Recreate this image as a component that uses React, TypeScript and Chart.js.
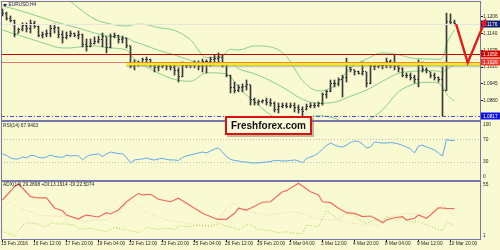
import React, { useEffect, useRef } from "react";
import { Chart, registerables } from "chart.js";

Chart.register(...registerables);

// ---------------- data ----------------
const openP = [
  1.1229, 1.1214, 1.1198, 1.119, 1.114, 1.1152, 1.1171, 1.1159, 1.1175, 1.1167,
  1.1132, 1.1136, 1.114, 1.1159, 1.1163, 1.1136, 1.1121, 1.1132, 1.114, 1.1132,
  1.1136, 1.1097, 1.1086, 1.1101, 1.1109, 1.1113, 1.1125, 1.1082, 1.1128, 1.1132,
  1.1113, 1.1117, 1.109, 1.1012, 1.102, 1.1024, 1.1036, 1.1039, 1.102, 1.1005,
  1.1012, 1.1016, 1.1012, 1.1008, 1.0993, 1.097, 1.1016, 1.1016, 1.102, 1.1024,
  1.1012, 1.1028, 1.1028, 1.1036, 1.1043, 1.1047, 1.102, 1.0977, 1.0927, 1.0919,
  1.0927, 1.0931, 1.0939, 1.0881, 1.0869, 1.0873, 1.0877, 1.0869, 1.0865, 1.0842,
  1.0854, 1.0861, 1.0857, 1.0861, 1.085, 1.0842, 1.0842, 1.0857, 1.0861, 1.0861,
  1.0865, 1.09, 1.0912, 1.0943, 1.0946, 1.0958, 1.0966, 1.1008, 1.0997, 1.0989,
  1.0985, 1.0989, 1.0943, 1.1012, 1.1012, 1.1016, 1.1016, 1.1028, 1.1024, 1.1012,
  1.1001, 1.0977, 1.0974, 1.0966, 1.0958, 1.1016, 1.0997, 1.0989, 1.0974, 1.0966,
  1.0958, 1.0919, 1.1183, 1.1179,
];
const highP = [
  1.1233, 1.1221, 1.1206, 1.119, 1.1159, 1.1179, 1.1179, 1.119, 1.1186, 1.1167,
  1.1144, 1.1152, 1.1171, 1.1175, 1.1163, 1.1148, 1.1144, 1.1148, 1.114, 1.1148,
  1.1136, 1.1117, 1.1117, 1.1125, 1.1128, 1.114, 1.1125, 1.1136, 1.114, 1.1132,
  1.1128, 1.1121, 1.109, 1.1036, 1.1032, 1.1043, 1.1047, 1.1039, 1.1024, 1.1024,
  1.1024, 1.1024, 1.1024, 1.1016, 1.1005, 1.1028, 1.1024, 1.1024, 1.1032, 1.1032,
  1.1039, 1.1036, 1.1047, 1.1055, 1.1063, 1.1055, 1.1024, 1.0977, 1.095, 1.0939,
  1.0943, 1.0958, 1.0939, 1.0888, 1.0881, 1.0881, 1.0888, 1.0885, 1.0873, 1.0869,
  1.0869, 1.0869, 1.0869, 1.0869, 1.0861, 1.0854, 1.0865, 1.0869, 1.0869, 1.0873,
  1.0908, 1.0919, 1.0958, 1.0958, 1.0966, 1.0977, 1.1043, 1.1008, 1.0997, 1.0993,
  1.1028, 1.0989, 1.1024, 1.1024, 1.1024, 1.1024, 1.1043, 1.1036, 1.1055, 1.1024,
  1.1005, 1.0985, 1.0985, 1.0977, 1.1036, 1.1028, 1.1005, 1.0989, 1.0985, 1.097,
  1.1008, 1.1217, 1.1214, 1.119,
];
const lowP = [
  1.1206, 1.119, 1.1183, 1.1125, 1.114, 1.1148, 1.1144, 1.114, 1.1159, 1.1125,
  1.1121, 1.1125, 1.1125, 1.114, 1.1121, 1.1101, 1.1117, 1.1125, 1.1125, 1.1117,
  1.1086, 1.107, 1.1086, 1.1097, 1.1101, 1.1086, 1.1063, 1.1082, 1.1121, 1.1101,
  1.1101, 1.1082, 1.1005, 1.0997, 1.1012, 1.1016, 1.102, 1.1008, 1.0989, 1.0993,
  1.1005, 1.0997, 1.0997, 1.0977, 1.095, 1.097, 1.1005, 1.1005, 1.1005, 1.0997,
  1.0989, 1.0985, 1.1012, 1.1016, 1.1024, 1.1008, 1.097, 1.0908, 1.0908, 1.0912,
  1.0912, 1.0919, 1.0861, 1.0861, 1.0861, 1.0869, 1.0861, 1.0857, 1.0834, 1.083,
  1.085, 1.085, 1.085, 1.0834, 1.083, 1.0819, 1.0842, 1.085, 1.085, 1.0854,
  1.0861, 1.0888, 1.0912, 1.0931, 1.0935, 1.0892, 1.095, 1.0989, 1.0977, 1.0981,
  1.0977, 1.0931, 1.0943, 1.0997, 1.1005, 1.1001, 1.1005, 1.1005, 1.0997, 1.0989,
  1.097, 1.0966, 1.0958, 1.0946, 1.0931, 1.0989, 1.0985, 1.0966, 1.0958, 1.095,
  1.0819, 1.0916, 1.1175, 1.1171,
];
const closeP = [
  1.1214, 1.1198, 1.119, 1.1136, 1.1152, 1.1171, 1.1159, 1.1175, 1.1167, 1.1132,
  1.1136, 1.114, 1.1159, 1.1163, 1.1136, 1.1121, 1.1132, 1.114, 1.1132, 1.1136,
  1.1097, 1.1086, 1.1101, 1.1109, 1.1113, 1.1125, 1.1082, 1.1128, 1.1132, 1.1113,
  1.1117, 1.109, 1.1012, 1.102, 1.1024, 1.1036, 1.1039, 1.102, 1.1005, 1.1012,
  1.1016, 1.1012, 1.1008, 1.0993, 1.097, 1.1016, 1.1016, 1.102, 1.1024, 1.1012,
  1.1028, 1.1028, 1.1036, 1.1043, 1.1047, 1.102, 1.0977, 1.0927, 1.0919, 1.0927,
  1.0931, 1.0939, 1.0881, 1.0869, 1.0873, 1.0877, 1.0869, 1.0865, 1.0842, 1.0854,
  1.0861, 1.0857, 1.0861, 1.085, 1.0842, 1.0834, 1.0857, 1.0861, 1.0861, 1.0865,
  1.09, 1.0912, 1.0943, 1.0946, 1.0958, 1.0966, 1.1024, 1.0997, 1.0989, 1.0985,
  1.0989, 1.0943, 1.1012, 1.1012, 1.1016, 1.1016, 1.1028, 1.1024, 1.1012, 1.1001,
  1.0977, 1.0974, 1.0966, 1.0958, 1.1016, 1.0997, 1.0993, 1.0974, 1.0966, 1.0958,
  1.0919, 1.1183, 1.1179, 1.1176,
];

// Bollinger bands, read at these bars
const bbIdx = [0, 3, 7, 11, 15, 17, 19, 23, 27, 31, 33, 35, 39, 43, 47, 51, 55, 57, 59, 63, 67, 71, 75, 79, 83, 87, 91, 95, 99, 103, 107, 109, 110, 111, 112, 113];
const bbUpper = [1.1364, 1.1345, 1.1322, 1.1299, 1.1275, 1.1262, 1.1237, 1.1194, 1.1175, 1.1167, 1.1173, 1.1174, 1.1161, 1.115, 1.1114, 1.1045, 1.1053, 1.1077, 1.1074, 1.109, 1.1086, 1.1049, 1.0956, 1.0916, 1.0934, 1.1005, 1.1039, 1.1063, 1.1056, 1.1041, 1.1039, 1.1038, 1.1044, 1.1097, 1.1128, 1.1152];
const bbMiddle = [1.1245, 1.1233, 1.1214, 1.1194, 1.1175, 1.1167, 1.1159, 1.114, 1.1127, 1.1121, 1.1106, 1.1096, 1.1073, 1.1055, 1.1034, 1.1016, 1.1018, 1.1024, 1.1002, 1.0982, 1.0955, 1.0921, 1.0883, 1.0868, 1.0872, 1.0895, 1.0919, 1.0953, 1.0984, 1.0992, 1.0994, 1.0992, 1.0988, 1.1, 1.1008, 1.1017];
const bbLower = [1.1152, 1.1136, 1.1117, 1.1097, 1.1082, 1.1082, 1.1086, 1.109, 1.1082, 1.1074, 1.1039, 1.1019, 1.0985, 1.096, 1.0953, 1.0986, 1.0984, 1.097, 1.093, 1.0873, 1.0823, 1.0793, 1.0809, 1.082, 1.081, 1.0784, 1.0799, 1.0842, 1.0912, 1.0943, 1.0949, 1.0945, 1.0932, 1.0904, 1.0888, 1.0877];

const rsiVals = [
  44.0, 41.1, 36.7, 34.9, 34.9, 38.4, 36.7, 41.1, 41.1, 37.6,
  36.7, 38.4, 42.0, 39.3, 38.4, 37.6, 42.0, 40.2, 41.1, 40.2,
  33.1, 39.3, 42.0, 42.9, 43.8, 39.3, 43.8, 47.3, 45.5, 44.7,
  43.8, 37.6, 27.8, 33.1, 34.0, 34.9, 36.7, 34.0, 33.1, 34.9,
  35.8, 34.0, 33.1, 33.1, 32.2, 37.6, 40.2, 42.0, 43.8, 45.5,
  47.3, 45.5, 49.1, 52.7, 54.4, 47.3, 39.3, 34.0, 32.2, 31.3,
  29.5, 29.5, 27.8, 27.8, 27.8, 28.7, 29.5, 30.4, 32.2, 32.2,
  31.3, 31.3, 32.2, 33.1, 31.3, 27.8, 35.8, 38.4, 41.1, 45.5,
  52.7, 58.9, 63.3, 59.8, 57.1, 56.2, 59.8, 64.2, 66.9, 66.0,
  61.6, 54.4, 56.2, 65.1, 64.2, 63.3, 63.3, 64.2, 63.3, 61.6,
  58.9, 56.2, 52.7, 45.5, 58.0, 59.8, 56.2, 53.6, 50.9, 45.5,
  40.2, 69.6, 67.8, 67.9403,
];

const adxIdx = [0, 3, 4, 5, 7, 9, 11, 13, 15, 16, 19, 20, 21, 24, 26, 27, 29, 31, 34, 35, 37, 39, 42, 44, 46, 48, 50, 53, 54, 56, 58, 59, 61, 62, 65, 67, 70, 71, 74, 77, 79, 80, 82, 84, 86, 88, 90, 92, 94, 95, 96, 98, 100, 101, 103, 104, 106, 107, 109, 111, 113];
const adxVals = [37.3, 49.7, 52.2, 48.5, 40.4, 39.2, 39.2, 29.9, 27.3, 23.3, 19.6, 21.8, 23.3, 21.5, 25.5, 24.3, 28.0, 35.7, 43.5, 42.0, 42.6, 38.0, 35.7, 38.9, 34.2, 29.6, 24.9, 20.3, 19.3, 19.3, 24.9, 29.6, 28.0, 29.6, 35.2, 35.7, 45.0, 46.0, 52.9, 45.0, 42.0, 35.7, 34.8, 29.6, 25.5, 24.9, 21.8, 22.4, 18.7, 16.2, 18.7, 20.8, 21.8, 18.7, 20.3, 23.3, 20.3, 23.3, 30.1, 29.6, 29.2898];
const pdiIdx = [0, 2, 3, 5, 6, 7, 9, 10, 11, 12, 14, 16, 18, 19, 22, 24, 26, 28, 29, 31, 34, 35, 36, 39, 41, 43, 44, 47, 49, 52, 54, 56, 58, 59, 61, 62, 64, 67, 69, 71, 73, 75, 76, 79, 81, 82, 84, 86, 88, 89, 91, 93, 95, 96, 98, 100, 102, 104, 106, 109, 110, 111, 112, 113];
const pdiVals = [7.8, 5.7, 3.8, 14.0, 15.0, 16.2, 14.7, 12.4, 13.1, 16.2, 15.0, 15.0, 14.0, 10.0, 11.0, 9.4, 7.8, 11.9, 11.0, 9.4, 6.9, 9.4, 11.9, 10.0, 11.0, 10.0, 13.1, 12.4, 14.0, 12.4, 15.6, 13.1, 11.0, 9.4, 14.0, 14.0, 10.0, 8.7, 6.9, 7.8, 6.3, 5.7, 14.0, 12.4, 27.3, 24.9, 19.3, 24.9, 23.3, 19.3, 15.6, 18.7, 17.1, 21.8, 19.3, 20.3, 17.1, 17.1, 14.0, 10.0, 8.7, 17.1, 15.0, 13.1914];
const mdiIdx = [0, 2, 4, 7, 9, 12, 16, 19, 21, 24, 26, 29, 32, 34, 36, 39, 41, 44, 46, 49, 53, 56, 58, 60, 62, 64, 67, 70, 73, 75, 78, 80, 83, 85, 88, 90, 94, 96, 99, 101, 104, 106, 109, 110, 111, 113];
const mdiVals = [31.1, 35.7, 29.6, 26.4, 23.3, 22.4, 21.8, 19.3, 17.1, 19.3, 18.7, 24.9, 37.3, 31.1, 25.5, 21.8, 18.7, 17.1, 15.6, 14.0, 14.0, 29.6, 34.2, 28.0, 26.4, 24.9, 23.3, 24.9, 26.4, 24.9, 20.3, 18.7, 19.3, 17.1, 15.6, 14.0, 14.0, 20.3, 23.3, 24.9, 23.3, 24.9, 29.6, 32.7, 28.0, 22.5074];

const timeLabels = ["15 Feb 2016", "16 Feb 12:00", "17 Feb 20:00", "19 Feb 04:00", "22 Feb 12:00", "23 Feb 20:00", "25 Feb 04:00", "26 Feb 12:00", "29 Feb 20:00", "2 Mar 04:00", "3 Mar 12:00", "4 Mar 20:00", "8 Mar 04:00", "9 Mar 12:00", "10 Mar 20:00"];
const timeLabelBars = [0, 8, 16, 24, 32, 40, 48, 56, 64, 72, 80, 88, 96, 104, 112];
const priceTicks = [1.1206, 1.114, 1.1075, 1.101, 1.0945, 1.088];
const rsiTicks = [100, 70, 30, 0];
const rsiLevels = [70, 30];
const adxTicks = [55, 1];

const bidPrice = 1.1176;
const resistPrice = 1.1058;
const supportPrice = 1.1026;
const lowLinePrice = 1.0817;
const zoneStartBar = 31;
const zonePrices = [1.1025, 1.1015, 1.1005];
const arrowBars = [113.4, 116.3, 120.9];
const arrowPrices = [1.1175, 1.1025, 1.1197];

const symbolTitle = "EURUSD,H4";
const rsiTitle = "RSI(14) 67.9403";
const adxTitle = "ADX(14) 29.2898 +DI:13.1914 -DI:22.5074";
const watermark = "Freshforex.com";

// ---------------- styles ----------------
const BG = "#FAFAD2";
const FRAME = "#7676ac";
const BAR = "#3a3a3a";
const TXT = "#1e1e1e";
const FONT = '4.8px "Liberation Sans", Arial, sans-serif';

const pts = (xs: number[], ys: number[]) => xs.map((x, i) => ({ x, y: ys[i] }));

const mt4Plugin: any = {
  id: "mt4",
  beforeDraw(chart: any) {
    const { ctx, width, height } = chart;
    ctx.save();
    ctx.fillStyle = BG;
    ctx.fillRect(0, 0, width, height);
    ctx.restore();
  },
  beforeDatasetsDraw(chart: any) {
    const { ctx, chartArea } = chart;
    const yR = chart.scales.yR;
    ctx.save();
    ctx.strokeStyle = "#bdbdb0";
    ctx.lineWidth = 1;
    ctx.setLineDash([1, 2]);
    rsiLevels.forEach((lv) => {
      const y = Math.round(yR.getPixelForValue(lv)) + 0.5;
      ctx.beginPath();
      ctx.moveTo(chartArea.left, y);
      ctx.lineTo(chartArea.right, y);
      ctx.stroke();
    });
    ctx.restore();
  },
  beforeDatasetDraw(chart: any, args: any) {
    const { ctx, chartArea } = chart;
    const ys = chart.scales[args.meta.yAxisID];
    ctx.save();
    ctx.beginPath();
    ctx.rect(chartArea.left, ys.top, chartArea.right - chartArea.left, ys.bottom - ys.top);
    ctx.clip();
  },
  afterDatasetDraw(chart: any, args: any) {
    const { ctx } = chart;
    if (args.index === 0) {
      const xs = chart.scales.x;
      const ys = chart.scales.yP;
      ctx.fillStyle = BAR;
      for (let i = 0; i < openP.length; i++) {
        const px = Math.floor(xs.getPixelForValue(i));
        ctx.fillRect(px - 1, Math.floor(ys.getPixelForValue(openP[i])), 1, 1);
        ctx.fillRect(px + 1, Math.floor(ys.getPixelForValue(closeP[i])), 1, 1);
      }
    }
    ctx.restore();
  },
  afterDatasetsDraw(chart: any) {
    const { ctx, chartArea } = chart;
    const yP = chart.scales.yP;
    const xs = chart.scales.x;
    const L = chartArea.left;
    const R = chartArea.right;
    ctx.save();
    // bid line
    let y = Math.round(yP.getPixelForValue(bidPrice)) + 0.5;
    ctx.strokeStyle = "#e6e6e0";
    ctx.lineWidth = 1;
    ctx.beginPath(); ctx.moveTo(L, y); ctx.lineTo(R, y); ctx.stroke();
    // support zone (yellow band with shadow)
    const zx = xs.getPixelForValue(zoneStartBar);
    const z0 = yP.getPixelForValue(zonePrices[0]);
    const z1 = yP.getPixelForValue(zonePrices[1]);
    const z2 = yP.getPixelForValue(zonePrices[2]);
    const g = ctx.createLinearGradient(0, z1, 0, z2);
    g.addColorStop(0, "rgba(120,120,110,0.75)");
    g.addColorStop(1, "rgba(170,170,150,0.1)");
    ctx.fillStyle = g;
    ctx.fillRect(zx, z1, R - zx, z2 - z1);
    ctx.fillStyle = "#f5f000";
    ctx.fillRect(zx, z0, R - zx, z1 - z0);
    // support line (salmon)
    y = Math.round(yP.getPixelForValue(supportPrice)) + 0.5;
    ctx.strokeStyle = "#f07a6a";
    ctx.lineWidth = 1;
    ctx.beginPath(); ctx.moveTo(L, y); ctx.lineTo(R, y); ctx.stroke();
    // resistance line (dark red)
    y = Math.round(yP.getPixelForValue(resistPrice)) + 0.5;
    ctx.strokeStyle = "#c00000";
    ctx.lineWidth = 1;
    ctx.beginPath(); ctx.moveTo(L, y); ctx.lineTo(R, y); ctx.stroke();
    // low line (blue dash-dot)
    y = Math.round(yP.getPixelForValue(lowLinePrice)) + 0.5;
    ctx.strokeStyle = "#4a4ae6";
    ctx.lineWidth = 1;
    ctx.setLineDash([4, 2, 1, 2]);
    ctx.beginPath(); ctx.moveTo(L, y); ctx.lineTo(R, y); ctx.stroke();
    ctx.restore();
  },
  afterDraw(chart: any) {
    const { ctx, chartArea } = chart;
    const xs = chart.scales.x;
    const yP = chart.scales.yP;
    const yR = chart.scales.yR;
    const yA = chart.scales.yA;
    const L = chartArea.left;
    const R = chartArea.right;
    const T = chartArea.top;
    const B = chartArea.bottom;
    ctx.save();
    // frame & separators
    ctx.fillStyle = FRAME;
    ctx.fillRect(L, T, R - L + 1, 1);
    ctx.fillRect(L, T, 1, B - T);
    ctx.fillRect(R, T, 1, B - T + 1);
    ctx.fillRect(L, B, R - L + 1, 1);
    ctx.fillRect(L, Math.round(yP.bottom), R - L + 1, 2);
    ctx.fillRect(L, Math.round(yR.bottom), R - L + 1, 2);

    ctx.font = FONT;
    ctx.textBaseline = "middle";
    ctx.textAlign = "left";
    // price axis
    ctx.fillStyle = TXT;
    priceTicks.forEach((p) => {
      const y = yP.getPixelForValue(p);
      ctx.fillRect(R + 1, Math.round(y), 2, 1);
      ctx.fillText(p.toFixed(4), R + 3, y + 0.5);
    });
    const clampY = (s: any, v: number) => Math.min(Math.max(s.getPixelForValue(v), s.top + 4.5), s.bottom - 3.5);
    rsiTicks.forEach((v) => {
      const y = clampY(yR, v);
      ctx.fillText(String(v), R + 3, y);
    });
    adxTicks.forEach((v) => {
      const y = clampY(yA, v);
      ctx.fillText(String(v), R + 3, y);
    });
    // highlighted price labels
    const tags = [
      { p: bidPrice, bg: "#10206e" },
      { p: resistPrice, bg: "#d40000" },
      { p: supportPrice, bg: "#ee3a30" },
      { p: lowLinePrice, bg: "#1010e8" },
    ];
    tags.forEach((t) => {
      const y = yP.getPixelForValue(t.p);
      ctx.fillStyle = t.bg;
      ctx.fillRect(R + 1, Math.round(y) - 3.5, 19, 7);
      ctx.fillStyle = "#ffffff";
      ctx.fillText(t.p.toFixed(4), R + 3, y + 0.5);
    });
    // time axis
    ctx.fillStyle = TXT;
    timeLabelBars.forEach((b, k) => {
      const x = Math.floor(xs.getPixelForValue(b));
      ctx.fillRect(x, B + 1, 1, 2);
      ctx.fillText(timeLabels[k], x - 1, B + 4.5);
    });
    // pane titles
    ctx.fillStyle = "#202050";
    ctx.beginPath();
    ctx.moveTo(L + 2, T + 3); ctx.lineTo(L + 6, T + 3); ctx.lineTo(L + 4, T + 6); ctx.closePath();
    ctx.fill();
    ctx.fillText(symbolTitle, L + 7.5, T + 4);
    ctx.fillStyle = TXT;
    ctx.fillText(rsiTitle, L + 2, yR.top + 5.5);
    ctx.fillText(adxTitle, L + 2, yA.top + 5);
    // red arrow
    const ap = arrowBars.map((b, i) => [xs.getPixelForValue(b), yP.getPixelForValue(arrowPrices[i])]);
    ctx.strokeStyle = "#e81818";
    ctx.fillStyle = "#e81818";
    ctx.lineWidth = 2.4;
    ctx.lineJoin = "miter";
    const [ex, ey] = ap[2];
    const [sx, sy] = ap[1];
    const ang = Math.atan2(ey - sy, ex - sx);
    const back = 6;
    ctx.beginPath();
    ctx.moveTo(ap[0][0], ap[0][1]);
    ctx.lineTo(ap[1][0], ap[1][1]);
    ctx.lineTo(ex - Math.cos(ang) * back, ey - Math.sin(ang) * back);
    ctx.stroke();
    ctx.beginPath();
    ctx.moveTo(ex, ey);
    ctx.lineTo(ex - Math.cos(ang - 0.45) * 8, ey - Math.sin(ang - 0.45) * 8);
    ctx.lineTo(ex - Math.cos(ang + 0.45) * 8, ey - Math.sin(ang + 0.45) * 8);
    ctx.closePath();
    ctx.fill();
    // watermark
    const wx = 225, wy = 116, ww = 87, wh = 19;
    ctx.fillStyle = "rgba(110,110,90,0.45)";
    ctx.fillRect(wx + 2, wy + 2, ww, wh);
    ctx.fillStyle = "#fbfbdc";
    ctx.fillRect(wx, wy, ww, wh);
    ctx.strokeStyle = "#e01010";
    ctx.lineWidth = 2;
    ctx.strokeRect(wx + 1, wy + 1, ww - 2, wh - 2);
    ctx.fillStyle = "#111111";
    ctx.font = 'bold 10px "Liberation Sans", Arial, sans-serif';
    ctx.textAlign = "center";
    ctx.fillText(watermark, wx + ww / 2, wy + wh / 2 + 0.5);
    ctx.restore();
  },
};

const hiddenAxis = (extra: any) => ({
  type: "linear",
  position: "right",
  stack: "panes",
  ticks: { display: false },
  grid: { display: false },
  border: { display: false },
  afterFit: (s: any) => { s.width = 20; },
  ...extra,
});

export default function App() {
  const ref = useRef<HTMLCanvasElement | null>(null);
  useEffect(() => {
    if (!ref.current) return;
    const bars = openP.map((_, i) => ({ x: i, y: [lowP[i], highP[i]] }));
    const chart = new Chart(ref.current, {
      type: "line",
      data: {
        datasets: [
          { type: "bar", data: bars as any, yAxisID: "yP", xAxisID: "x", backgroundColor: BAR, barThickness: 1, borderWidth: 0, grouped: false } as any,
          { data: pts(bbIdx, bbUpper), yAxisID: "yP", borderColor: "#86cf8c", borderWidth: 1, pointRadius: 0, cubicInterpolationMode: "monotone" } as any,
          { data: pts(bbIdx, bbMiddle), yAxisID: "yP", borderColor: "#86cf8c", borderWidth: 1, pointRadius: 0, cubicInterpolationMode: "monotone" } as any,
          { data: pts(bbIdx, bbLower), yAxisID: "yP", borderColor: "#86cf8c", borderWidth: 1, pointRadius: 0, cubicInterpolationMode: "monotone" } as any,
          { data: rsiVals.map((v, i) => ({ x: i, y: v })), yAxisID: "yR", borderColor: "#5aaaf0", borderWidth: 1, pointRadius: 0, tension: 0 } as any,
          { data: pts(adxIdx, adxVals), yAxisID: "yA", borderColor: "#f06a5c", borderWidth: 1.2, pointRadius: 0, tension: 0 } as any,
          { data: pts(pdiIdx, pdiVals), yAxisID: "yA", borderColor: "#a4cf3c", borderWidth: 1, borderDash: [1, 2], pointRadius: 0, tension: 0 } as any,
          { data: pts(mdiIdx, mdiVals), yAxisID: "yA", borderColor: "#f2c6a8", borderWidth: 1, borderDash: [1, 2], pointRadius: 0, tension: 0 } as any,
        ],
      },
      options: {
        animation: false,
        responsive: false,
        devicePixelRatio: 1,
        events: [],
        layout: { padding: { left: 1, top: 1, right: 0, bottom: 11 } },
        plugins: { legend: { display: false }, tooltip: { enabled: false }, title: { display: false } },
        scales: {
          x: { type: "linear", min: -0.375, max: -0.375 + 479 / 4, display: false, offset: false },
          yP: hiddenAxis({ stackWeight: 119, min: 1.0803, max: 1.1264 }),
          yR: hiddenAxis({ stackWeight: 60, min: -2.7, max: 104.4 }),
          yA: hiddenAxis({ stackWeight: 59, min: 1.0, max: 55.93 }),
        } as any,
      },
      plugins: [mt4Plugin],
    });
    return () => chart.destroy();
  }, []);
  return (
    <div style={{ position: "absolute", left: 0, top: 0, width: 500, height: 250 }}>
      <canvas ref={ref} width={500} height={250} style={{ display: "block" }} />
    </div>
  );
}
